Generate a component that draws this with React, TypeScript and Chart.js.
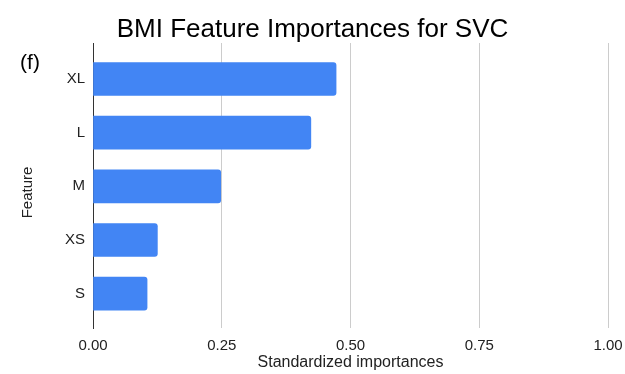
import React, { useEffect, useRef } from "react";
import { Chart, registerables } from "chart.js";

Chart.register(...registerables);

const features = ["XL", "L", "M", "XS", "S"];
const importances = [0.472, 0.423, 0.248, 0.125, 0.105];
const xTicks = [0, 0.25, 0.5, 0.75, 1];
const chartTitle = "BMI Feature Importances for SVC";
const panelLabel = "(f)";
const xTitle = "Standardized importances";
const yTitle = "Feature";

const FONT = "'Liberation Sans', Arial, sans-serif";

const textPlugin = {
  id: "extraText",
  afterDraw(chart: any) {
    const ctx = chart.ctx;
    ctx.save();
    ctx.textAlign = "center";
    ctx.font = `26px ${FONT}`;
    ctx.fillStyle = "#000";
    ctx.textBaseline = "alphabetic";
    ctx.fillText(chartTitle, chart.width / 2, 37);
    ctx.textBaseline = "middle";
    ctx.font = `21px ${FONT}`;
    ctx.fillText(panelLabel, 30, 63);
    ctx.font = `15px ${FONT}`;
    ctx.fillStyle = "#222";
    ctx.translate(28, 192.5);
    ctx.rotate(-Math.PI / 2);
    ctx.fillText(yTitle, 0, 0);
    ctx.restore();
  },
};

export default function App() {
  const ref = useRef<HTMLCanvasElement | null>(null);
  useEffect(() => {
    if (!ref.current) return;
    const chart = new Chart(ref.current, {
      type: "bar",
      data: {
        datasets: [
          {
            data: importances.map((v, i) => ({ x: v, y: i })),
            backgroundColor: "#4285F4",
            borderRadius: 3,
            borderSkipped: "start",
            barThickness: 33,
          },
        ],
      },
      plugins: [textPlugin],
      options: {
        indexAxis: "y",
        animation: false,
        responsive: false,
        maintainAspectRatio: false,
        layout: { padding: { left: 0, right: 17, top: 43, bottom: 0 } },
        plugins: {
          legend: { display: false },
          tooltip: { enabled: false },
          title: { display: false },
        },
        scales: {
          x: {
            type: "linear",
            min: 0,
            max: 1,
            offset: false,
            afterBuildTicks: (axis: any) => {
              axis.ticks = xTicks.map((v) => ({ value: v }));
            },
            afterFit: (axis: any) => {
              axis.height = 46;
              axis.paddingLeft = 0;
              axis.paddingRight = 0;
            },
            ticks: {
              color: "#222",
              font: { family: FONT, size: 15 },
              padding: 9,
              maxRotation: 0,
              callback: (v: any) => Number(v).toFixed(2),
            },
            grid: { color: "#cccccc", lineWidth: 1, drawTicks: false, offset: false },
            border: { display: false },
            title: {
              display: true,
              text: xTitle,
              color: "#222",
              font: { family: FONT, size: 16, lineHeight: 1.2 },
              padding: { top: 0, bottom: 1.5 },
            },
          },
          y: {
            type: "linear",
            reverse: true,
            min: -0.67,
            max: 4.64,
            offset: false,
            afterBuildTicks: (axis: any) => {
              axis.ticks = features.map((_, i) => ({ value: i }));
            },
            afterFit: (axis: any) => {
              axis.width = 93;
              axis.paddingTop = 0;
              axis.paddingBottom = 0;
            },
            ticks: {
              color: "#222",
              font: { family: FONT, size: 15 },
              padding: 8,
              autoSkip: false,
              callback: (v: any) => features[Math.round(Number(v))] ?? "",
            },
            grid: { display: false, drawTicks: false, offset: false },
            border: { display: true, color: "#333333", width: 1 },
            title: { display: false },
          },
        },
      } as any,
    });
    return () => chart.destroy();
  }, []);
  return (
    <div style={{ position: "absolute", left: 0, top: 0, width: 625, height: 374, background: "#fff" }}>
      <canvas ref={ref} width={625} height={374} style={{ width: 625, height: 374 }} />
    </div>
  );
}
